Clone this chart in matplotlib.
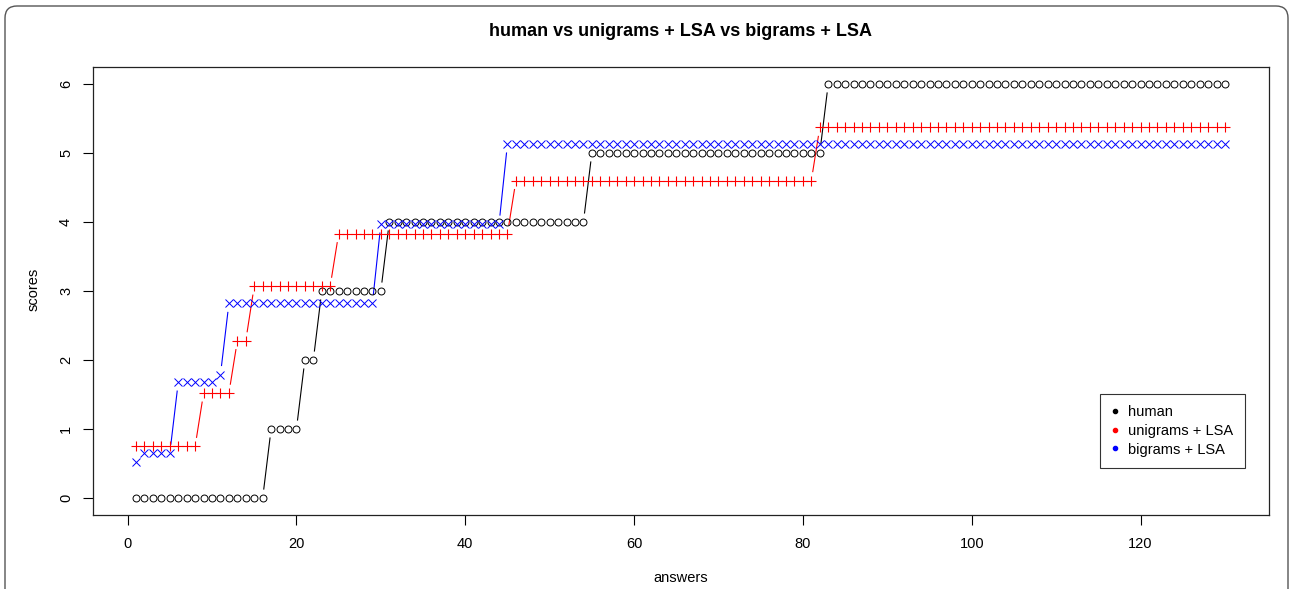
import numpy as np
import matplotlib
matplotlib.use("Agg")
import matplotlib.pyplot as plt
from matplotlib.lines import Line2D
from matplotlib.patches import FancyBboxPatch

plt.rcParams['font.family'] = ['Liberation Sans', 'DejaVu Sans']

# ---- data (step levels and run lengths) ----
answers = np.arange(1, 131)

human_levels = [0, 1, 2, 3, 4, 5, 6]
human_counts = [16, 4, 2, 8, 24, 28, 48]

unigram_levels = [0.75, 1.52, 2.28, 3.07, 3.83, 4.60, 5.37]
unigram_counts = [8, 4, 2, 10, 21, 36, 49]

bigram_levels = [0.52, 0.65, 1.68, 1.79, 2.82, 3.97, 5.13]
bigram_counts = [1, 4, 5, 1, 18, 15, 86]

human = np.repeat(human_levels, human_counts)
unigrams = np.repeat(unigram_levels, unigram_counts)
bigrams = np.repeat(bigram_levels, bigram_counts)

x_ticks = [0, 20, 40, 60, 80, 100, 120]
y_ticks = [0, 1, 2, 3, 4, 5, 6]
labels = ["human", "unigrams + LSA", "bigrams + LSA"]
colors = ["black", "#FF0000", "#0000FF"]

W, H, DPI = 1291, 589, 100
fig = plt.figure(figsize=(W / DPI, H / DPI), dpi=DPI)
fig.patch.set_facecolor("white")

# outer rounded frame
frame = FancyBboxPatch((5 / DPI, -0.5), (1288 - 5) / DPI, (H - 6) / DPI + 0.5,
                       boxstyle="round,pad=0,rounding_size=0.12",
                       transform=fig.dpi_scale_trans, fill=False,
                       edgecolor="#555555", linewidth=1.0, clip_on=False)
fig.patches.append(frame)

left, right, top, bottom = 92.5, 1268.5, 67.4, 514.6
ax = fig.add_axes([left / W, 1 - bottom / H, (right - left) / W, (bottom - top) / H])

xpad = (answers.max() - answers.min()) * 0.04
ax.set_xlim(answers.min() - xpad, answers.max() + xpad)
ax.set_ylim(-0.24, 6.24)

gap_px = 8.5


def gapped_lines(x, y, color):
    pts = ax.transData.transform(np.column_stack([x, y]))
    inv = ax.transData.inverted()
    for i in range(len(pts) - 1):
        p0, p1 = pts[i], pts[i + 1]
        d = p1 - p0
        L = np.hypot(*d)
        if L <= 2 * gap_px:
            continue
        u = d / L
        a = inv.transform(p0 + u * gap_px)
        b = inv.transform(p1 - u * gap_px)
        ax.plot([a[0], b[0]], [a[1], b[1]], color=color, lw=0.8,
                solid_capstyle="butt")


gapped_lines(answers, human, colors[0])
gapped_lines(answers, unigrams, colors[1])
gapped_lines(answers, bigrams, colors[2])

ax.plot(answers, human, linestyle="none", marker="o", ms=5.0, mfc="none",
        mec=colors[0], mew=0.7)
ax.plot(answers, unigrams, linestyle="none", marker="+", ms=7.0,
        mec=colors[1], mew=0.8)
ax.plot(answers, bigrams, linestyle="none", marker="x", ms=5.5,
        mec=colors[2], mew=0.7)

ax.set_xticks(x_ticks)
ax.set_yticks(y_ticks)
ax.tick_params(axis="both", direction="out", length=7, width=0.8,
               labelsize=10.5, colors="black")
ax.tick_params(axis="x", pad=9)
ax.tick_params(axis="y", pad=7, labelrotation=90)
for lab in ax.get_yticklabels():
    lab.set_va("center")
for sp in ax.spines.values():
    sp.set_linewidth(0.9)
    sp.set_color("#222222")

fig.text(680.5 / W, 1 - 32 / H, "human vs unigrams + LSA vs bigrams + LSA",
         ha="center", va="center", fontsize=13, fontweight="bold")
fig.text(680.5 / W, 1 - 578 / H, "answers", ha="center", va="center", fontsize=10.5)
fig.text(34 / W, 1 - 289 / H, "scores", ha="center", va="center", fontsize=10.5,
         rotation=90)

handles = [Line2D([], [], linestyle="none", marker="o", ms=3, color=c) for c in colors]
leg = ax.legend(handles, labels, loc="upper left",
                bbox_to_anchor=((1100 - left) / (right - left), (bottom - 394) / (bottom - top)),
                fontsize=10.5, frameon=True, fancybox=False, handlelength=0.6,
                handletextpad=0.6, borderpad=0.75, labelspacing=0.33,
                borderaxespad=0)
leg.get_frame().set_edgecolor("black")
leg.get_frame().set_linewidth(0.8)

fig.savefig("out.png", dpi=DPI, facecolor="white")
